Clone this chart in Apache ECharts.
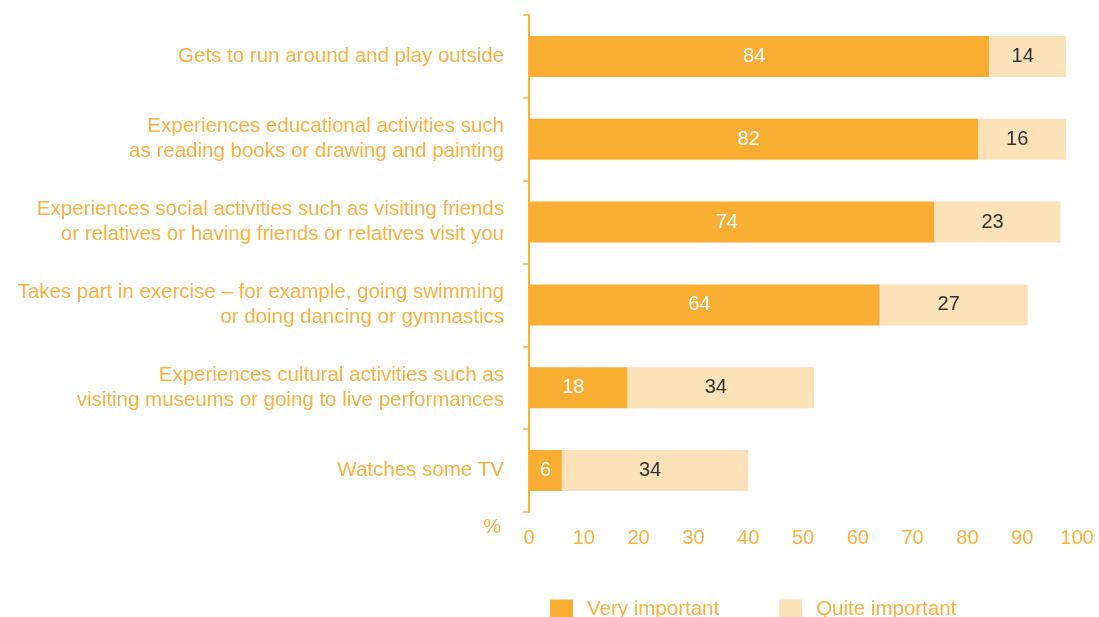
<!DOCTYPE html>
<html><head><meta charset="utf-8">
<script src="https://cdn.jsdelivr.net/npm/echarts@6/dist/echarts.min.js"></script>
<style>html,body{margin:0;padding:0;background:#fff}#c{width:1099px;height:617px}</style>
</head><body><div id="c"></div>
<script>
const categories = [
  "Gets to run around and play outside",
  "Experiences educational activities such\nas reading books or drawing and painting",
  "Experiences social activities such as visiting friends\nor relatives or having friends or relatives visit you",
  "Takes part in exercise – for example, going swimming\nor doing dancing or gymnastics",
  "Experiences cultural activities such as\nvisiting museums or going to live performances",
  "Watches some TV"
];
const veryImportant = [84, 82, 74, 64, 18, 6];
const quiteImportant = [14, 16, 23, 27, 34, 34];
const xTicks = [0, 10, 20, 30, 40, 50, 60, 70, 80, 90, 100];

const TXT = '#FBB040';
const FONT = '"Liberation Sans", Arial, sans-serif';
const chart = echarts.init(document.getElementById('c'), null, {renderer: 'canvas'});
chart.setOption({
  animation: false,
  textStyle: {fontFamily: FONT},
  grid: {left: 529, right: 22, top: 15, bottom: 105, containLabel: false},
  legend: {
    left: 545, top: 594, itemWidth: 23, itemHeight: 20, itemGap: 60,
    icon: 'rect',
    textStyle: {color: TXT, fontSize: 20.5, fontFamily: FONT, padding: [0,0,0,9]},
    data: ['Very important', 'Quite important']
  },
  xAxis: {
    type: 'value', min: xTicks[0], max: xTicks[xTicks.length-1], interval: 10,
    name: '%', nameLocation: 'start', nameGap: 28,
    nameTextStyle: {color: TXT, fontSize: 20, verticalAlign: 'top', padding: [5,0,0,0], fontFamily: FONT},
    axisLine: {show: false}, axisTick: {show: false}, splitLine: {show: false},
    axisLabel: {color: TXT, fontSize: 20, margin: 16, fontFamily: FONT}
  },
  yAxis: {
    type: 'category', inverse: true, data: categories,
    axisLine: {show: true, lineStyle: {color: TXT, width: 2}},
    axisTick: {show: true, length: 6, lineStyle: {color: TXT, width: 1.5}},
    axisLabel: {color: TXT, fontSize: 20.5, margin: 25, lineHeight: 25, align: 'right', fontFamily: FONT}
  },
  series: [
    {
      name: 'Very important', type: 'bar', stack: 'a', barWidth: 41,
      data: veryImportant.map(v => v < 10 ? {value: v, label: {offset: [0, 0]}} : v),
      itemStyle: {color: '#F9AE33'},
      label: {show: true, position: 'inside', offset: [-5, 0], color: '#fff', fontSize: 20, fontFamily: FONT}
    },
    {
      name: 'Quite important', type: 'bar', stack: 'a', data: quiteImportant, barWidth: 41,
      itemStyle: {color: '#FDE1B9'},
      label: {show: true, position: 'inside', offset: [-5, 0], color: '#333', fontSize: 20, fontFamily: FONT}
    }
  ]
});
</script></body></html>
